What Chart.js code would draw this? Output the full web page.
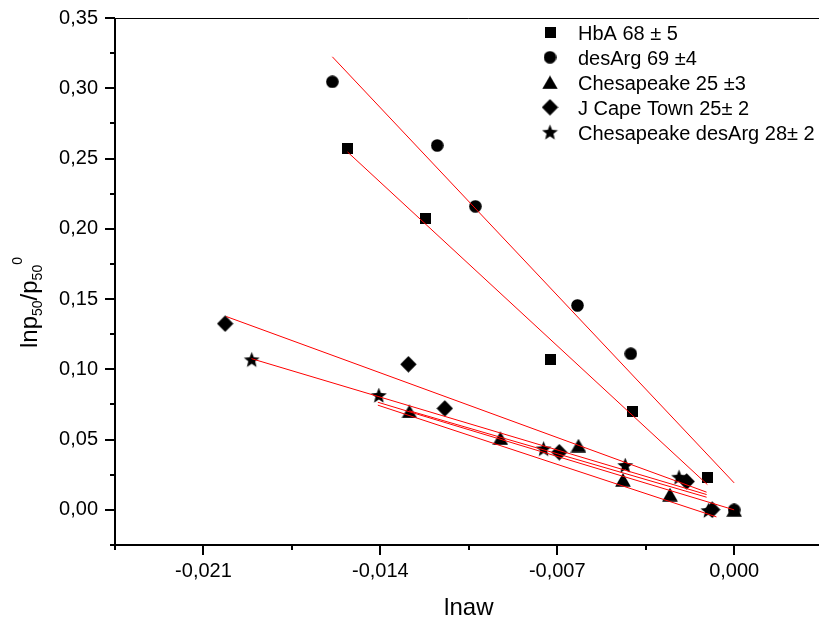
<!DOCTYPE html>
<html>
<head>
<meta charset="utf-8">
<script src="https://cdn.jsdelivr.net/npm/chart.js@4.4.0/dist/chart.umd.min.js"></script>
<style>
  html, body { margin: 0; padding: 0; background: #fff; overflow: hidden; width: 819px; height: 621px; }
  #wrap { width: 840px; height: 621px; }
</style>
</head>
<body>
<div id="wrap"><canvas id="plot" width="840" height="621"></canvas></div>
<script>
// measured points (lnaw, lnp50/p50^0)
const hbaX = [-0.0153, -0.01221, -0.00725, -0.00403, -0.00105];
const hbaY = [0.2571, 0.2073, 0.1068, 0.0700, 0.0228];
const desArgX = [-0.0159, -0.01175, -0.01024, -0.0062, -0.00409, 0];
const desArgY = [0.3046, 0.2593, 0.2160, 0.1455, 0.1111, 0];
const chesX = [-0.01285, -0.00925, -0.00616, -0.0044, -0.00254, 0];
const chesY = [0.0700, 0.0510, 0.0458, 0.0214, 0.0109, 0];
const capeX = [-0.02014, -0.01289, -0.01145, -0.00692, -0.00188, -0.00087];
const capeY = [0.1325, 0.1036, 0.0722, 0.0410, 0.0202, 0.0002];
const chesDesX = [-0.01909, -0.01406, -0.00754, -0.00431, -0.00218, -0.00102];
const chesDesY = [0.1068, 0.0814, 0.0434, 0.0316, 0.0232, -0.0005];

// linear fits: [x start, x end] and [y start, y end]
const fitHbaX = [-0.0153, -0.00106], fitHbaY = [0.2547, 0.0180];
const fitDesArgX = [-0.0159, 0], fitDesArgY = [0.3224, 0.0192];
const fitCapeX = [-0.0201, -0.00109], fitCapeY = [0.1376, 0.0126];
const fitChesDesX = [-0.0191, -0.00109], fitChesDesY = [0.1076, 0.0109];
const fitChesX = [-0.01285, -0.00109], fitChesY = [0.0705, 0.0090];
const fitChesBX = [-0.0141, 0], fitChesBY = [0.0766, 0.0];
const fitChesCX = [-0.0141, -0.0007], fitChesCY = [0.0745, -0.005];

const seriesNames = ['HbA 68 \u00b1 5', 'desArg 69 \u00b14', 'Chesapeake 25 \u00b13', 'J Cape Town 25\u00b1 2', 'Chesapeake desArg 28\u00b1 2'];

const xTicks = [-0.021, -0.014, -0.007, 0];
const xMinor = [-0.0245, -0.0175, -0.0105, -0.0035, 0.0035];
const yTicks = [0, 0.05, 0.10, 0.15, 0.20, 0.25, 0.30, 0.35];
const yMinor = [-0.025, 0.025, 0.075, 0.125, 0.175, 0.225, 0.275, 0.325];

const FONT = "'Liberation Sans', Arial, sans-serif";

function sprite(w, h, draw) {
  const c = document.createElement('canvas');
  c.width = w; c.height = h;
  const g = c.getContext('2d');
  g.fillStyle = '#000';
  g.beginPath();
  draw(g, w, h);
  g.fill();
  return c;
}

const markers = [
  sprite(11, 11, g => g.rect(0, 0, 11, 11)),
  sprite(13, 13, g => g.arc(6.5, 6.5, 6.3, 0, Math.PI * 2)),
  sprite(16, 14, g => { g.moveTo(8, 0.3); g.lineTo(15.8, 13.7); g.lineTo(0.2, 13.7); g.closePath(); }),
  sprite(17, 17, g => { g.moveTo(8.5, 0.3); g.lineTo(16.7, 8.5); g.lineTo(8.5, 16.7); g.lineTo(0.3, 8.5); g.closePath(); }),
  sprite(17, 17, g => {
    for (let i = 0; i < 10; i++) {
      const r = i % 2 ? 3.6 : 8.3;
      const a = -Math.PI / 2 + i * Math.PI / 5;
      const px = 8.5 + r * Math.cos(a), py = 9 + r * Math.sin(a);
      i ? g.lineTo(px, py) : g.moveTo(px, py);
    }
    g.closePath();
  })
];

const pts = (xs, ys) => xs.map((x, i) => ({ x, y: ys[i] }));

const pointSets = [[hbaX, hbaY], [desArgX, desArgY], [chesX, chesY], [capeX, capeY], [chesDesX, chesDesY]];
const fitSets = [[fitHbaX, fitHbaY], [fitDesArgX, fitDesArgY], [fitCapeX, fitCapeY], [fitChesDesX, fitChesDesY],
                 [fitChesX, fitChesY], [fitChesBX, fitChesBY], [fitChesCX, fitChesCY]];

const datasets = [];
pointSets.forEach((s, i) => datasets.push({
  label: seriesNames[i],
  data: pts(s[0], s[1]),
  pointStyle: markers[i],
  showLine: false,
  order: 2
}));
fitSets.forEach(s => datasets.push({
  label: '',
  data: pts(s[0], s[1]),
  showLine: true,
  borderColor: '#ff0000',
  borderWidth: 1,
  pointRadius: 0,
  order: 1
}));

// axes, tick marks, titles and legend
const framePlugin = {
  id: 'frame',
  afterDraw(chart) {
    const { ctx, chartArea: a } = chart;
    const x = chart.scales.x, y = chart.scales.y;
    ctx.save();
    ctx.strokeStyle = '#000';
    ctx.lineWidth = 1;
    ctx.beginPath();
    ctx.moveTo(a.left, a.top + 0.5); ctx.lineTo(a.right, a.top + 0.5);
    ctx.stroke();
    ctx.lineWidth = 2;
    ctx.beginPath();
    ctx.moveTo(a.left, a.top); ctx.lineTo(a.left, a.bottom + 1);
    ctx.moveTo(a.left - 1, a.bottom); ctx.lineTo(a.right, a.bottom);
    ctx.moveTo(a.right, a.top); ctx.lineTo(a.right, a.bottom);
    yTicks.forEach(v => { const p = Math.round(y.getPixelForValue(v)); ctx.moveTo(a.left - 10, p); ctx.lineTo(a.left, p); });
    yMinor.forEach(v => { const p = Math.round(y.getPixelForValue(v)); ctx.moveTo(a.left - 5, p); ctx.lineTo(a.left, p); });
    xTicks.forEach(v => { const p = Math.round(x.getPixelForValue(v)); ctx.moveTo(p, a.bottom); ctx.lineTo(p, a.bottom + 10); });
    xMinor.forEach(v => { const p = Math.round(x.getPixelForValue(v)); ctx.moveTo(p, a.bottom); ctx.lineTo(p, a.bottom + 5); });
    ctx.stroke();

    ctx.fillStyle = '#000';
    // x title
    ctx.font = '24px ' + FONT;
    ctx.textAlign = 'center';
    ctx.textBaseline = 'alphabetic';
    ctx.fillText('lnaw', (a.left + a.right) / 2, 615);

    // y title with sub/superscripts
    ctx.save();
    ctx.translate(37, 348);
    ctx.rotate(-Math.PI / 2);
    ctx.textAlign = 'left';
    let cx = 0;
    const put = (t, size, dy) => {
      ctx.font = size + 'px ' + FONT;
      ctx.fillText(t, cx, dy);
      cx += ctx.measureText(t).width;
    };
    put('lnp', 24, 0);
    put('50', 14, 5);
    put('/p', 24, 0);
    put('50', 14, 5);
    ctx.font = '14px ' + FONT;
    ctx.fillText('0', cx, -15);
    ctx.restore();

    // legend
    ctx.font = '20px ' + FONT;
    ctx.textAlign = 'left';
    seriesNames.forEach((name, i) => {
      const cy = 32.3 + i * 25;
      const m = markers[i];
      ctx.drawImage(m, 550 - m.width / 2, cy - m.height / 2);
      ctx.fillText(name, 578, cy + 7.2);
    });
    ctx.restore();
  }
};

new Chart(document.getElementById('plot'), {
  type: 'scatter',
  data: { datasets },
  options: {
    responsive: false,
    devicePixelRatio: 1,
    animation: false,
    layout: { padding: { top: 18, right: 17.4, left: 0, bottom: 0 } },
    plugins: { legend: { display: false }, tooltip: { enabled: false } },
    scales: {
      x: {
        type: 'linear',
        min: -0.0245,
        max: 0.0035,
        afterFit: s => { s.height = 76; s.paddingLeft = 0; s.paddingRight = 0; },
        afterBuildTicks: s => { s.ticks = xTicks.map(v => ({ value: v })); },
        grid: { display: false, drawTicks: false },
        border: { display: false },
        ticks: {
          autoSkip: false,
          maxRotation: 0,
          padding: 14,
          color: '#000',
          font: { family: FONT, size: 20 },
          callback: v => v.toFixed(3).replace('.', ',')
        }
      },
      y: {
        type: 'linear',
        min: -0.025,
        max: 0.35,
        afterFit: s => { s.width = 115; s.paddingTop = 0; s.paddingBottom = 0; },
        afterBuildTicks: s => { s.ticks = yTicks.map(v => ({ value: v })); },
        grid: { display: false, drawTicks: false },
        border: { display: false },
        ticks: {
          padding: 17,
          color: '#000',
          font: { family: FONT, size: 20 },
          callback: v => v.toFixed(2).replace('.', ',')
        }
      }
    }
  },
  plugins: [framePlugin]
});
</script>
</body>
</html>
